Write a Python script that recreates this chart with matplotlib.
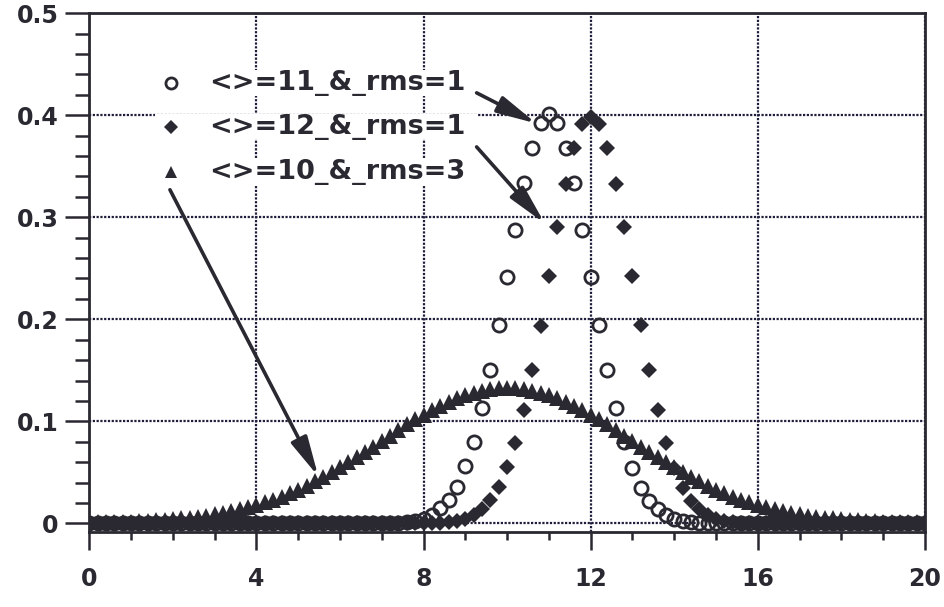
import numpy as np
import matplotlib
matplotlib.use('Agg')
import matplotlib.pyplot as plt
from matplotlib.patches import Rectangle
from matplotlib.ticker import MultipleLocator

# puntos de muestreo: 0 a 20 cada 0.2
x = np.linspace(0, 20, 101)

# <>=11, rms=1 (circulos)
media11 = [
  0, 0, 0, 0, 0, 0, 0, 0, 0, 0,
  0, 0, 0, 0, 0, 0, 0, 0, 0, 0,
  0, 0, 0, 0, 0, 0, 0, 0, 0, 0,
  0, 0, 0, 0, 0, 0, 0, 0, 0.001, 0.002,
  0.004, 0.008, 0.015, 0.023, 0.036, 0.056, 0.080, 0.113, 0.150, 0.194,
  0.241, 0.288, 0.334, 0.368, 0.392, 0.401, 0.392, 0.368, 0.334, 0.288,
  0.241, 0.194, 0.150, 0.113, 0.080, 0.054, 0.035, 0.022, 0.014, 0.008,
  0.004, 0.002, 0.001, 0, 0, 0, 0, 0, 0, 0,
  0, 0, 0, 0, 0, 0, 0, 0, 0, 0,
  0, 0, 0, 0, 0, 0, 0, 0, 0, 0,
  0,
]

# <>=12, rms=1 (rombos)
media12 = [
  0, 0, 0, 0, 0, 0, 0, 0, 0, 0,
  0, 0, 0, 0, 0, 0, 0, 0, 0, 0,
  0, 0, 0, 0, 0, 0, 0, 0, 0, 0,
  0, 0, 0, 0, 0, 0, 0, 0, 0, 0,
  0, 0, 0, 0.001, 0.002, 0.004, 0.008, 0.014, 0.023, 0.036,
  0.055, 0.079, 0.111, 0.150, 0.193, 0.242, 0.290, 0.333, 0.368, 0.391,
  0.398, 0.391, 0.368, 0.333, 0.290, 0.242, 0.194, 0.150, 0.111, 0.079,
  0.054, 0.035, 0.022, 0.014, 0.008, 0.004, 0.002, 0.001, 0, 0,
  0, 0, 0, 0, 0, 0, 0, 0, 0, 0,
  0, 0, 0, 0, 0, 0, 0, 0, 0, 0,
  0,
]

# <>=10, rms=3 (triangulos)
media10 = [
  0.001, 0.001, 0.001, 0.001, 0.001, 0.001, 0.002, 0.002, 0.003, 0.003,
  0.004, 0.005, 0.005, 0.006, 0.007, 0.009, 0.010, 0.012, 0.014, 0.016,
  0.018, 0.021, 0.023, 0.026, 0.030, 0.033, 0.037, 0.041, 0.045, 0.050,
  0.055, 0.060, 0.065, 0.070, 0.075, 0.081, 0.086, 0.091, 0.097, 0.102,
  0.106, 0.111, 0.115, 0.119, 0.123, 0.126, 0.128, 0.130, 0.132, 0.133,
  0.133, 0.133, 0.132, 0.130, 0.128, 0.126, 0.123, 0.119, 0.115, 0.111,
  0.106, 0.102, 0.097, 0.091, 0.086, 0.081, 0.075, 0.070, 0.065, 0.060,
  0.055, 0.050, 0.045, 0.041, 0.037, 0.033, 0.030, 0.026, 0.023, 0.021,
  0.018, 0.016, 0.014, 0.012, 0.010, 0.009, 0.007, 0.006, 0.005, 0.005,
  0.004, 0.003, 0.003, 0.002, 0.002, 0.001, 0.001, 0.001, 0.001, 0.001,
  0.001,
]

etiquetas = ['<>=11_&_rms=1', '<>=12_&_rms=1', '<>=10_&_rms=3']

TINTA = '#2a2830'
REJILLA = '#1e1e3c'


def graficar():
  fig = plt.figure(figsize=(9.45, 6.07), dpi=100)
  ax = fig.add_axes([0.0945, 0.1236, 0.8843, 0.8545])

  ax.set_xlim(0, 20)
  ax.set_ylim(-0.0085, 0.5)

  # series
  ax.plot(x, media10, linestyle='none', marker='^', markersize=11,
          color=TINTA, markeredgewidth=0, zorder=3)
  ax.plot(x, media12, linestyle='none', marker='D', markersize=8,
          color=TINTA, markeredgewidth=0, zorder=4)
  ax.plot(x, media11, linestyle='none', marker='o', markersize=9.5,
          markerfacecolor='none', markeredgecolor=TINTA,
          markeredgewidth=2.0, zorder=5)

  # ejes y rejilla
  ax.xaxis.set_major_locator(MultipleLocator(4))
  ax.xaxis.set_minor_locator(MultipleLocator(1))
  ax.yaxis.set_minor_locator(MultipleLocator(0.02))
  ax.set_yticks([0, 0.1, 0.2, 0.3, 0.4, 0.5])
  ax.set_yticklabels(['0', '0.1', '0.2', '0.3', '0.4', '0.5'])

  ax.set_axisbelow(True)
  ax.grid(True, which='major', color=REJILLA, linewidth=1.6,
          linestyle=(0, (1, 0.7)))

  for lado in ['left', 'right', 'top', 'bottom']:
    ax.spines[lado].set_linewidth(2.0)
    ax.spines[lado].set_color(TINTA)

  ax.tick_params(axis='y', which='major', direction='out', length=17,
                 width=1.8, color=TINTA, pad=5, labelsize=17,
                 labelcolor=TINTA)
  ax.tick_params(axis='y', which='minor', direction='out', length=10,
                 width=1.8, color=TINTA)
  ax.tick_params(axis='x', which='major', direction='out', length=13,
                 width=1.8, color=TINTA, pad=12, labelsize=17,
                 labelcolor=TINTA)
  ax.tick_params(axis='x', which='minor', direction='out', length=6,
                 width=1.8, color=TINTA)
  for lbl in ax.get_xticklabels() + ax.get_yticklabels():
    lbl.set_fontweight('bold')

  # leyenda hecha a mano, cada fila con fondo blanco
  filas_y = [0.432, 0.389, 0.344]
  marcadores = [
    dict(marker='o', markersize=8, markerfacecolor='white',
         markeredgecolor=TINTA, markeredgewidth=2.0),
    dict(marker='D', markersize=7, color=TINTA, markeredgewidth=0),
    dict(marker='^', markersize=9, color=TINTA, markeredgewidth=0),
  ]
  for fy, texto, estilo in zip(filas_y, etiquetas, marcadores):
    ax.add_patch(Rectangle((1.57, fy - 0.0127), 7.73, 0.0254,
                           facecolor='white', edgecolor='none', zorder=1))
    ax.plot([1.95], [fy], linestyle='none', zorder=6, **estilo)
    ax.text(2.87, fy, texto, fontsize=19.5, fontweight='bold', color=TINTA,
            ha='left', va='center', zorder=6)

  # flechas
  flecha = dict(arrowstyle='-|>,head_length=1.5,head_width=0.33',
                color=TINTA, lw=2.6, mutation_scale=16,
                shrinkA=0, shrinkB=0)
  ax.annotate('', xy=(10.70, 0.392), xytext=(9.27, 0.422),
              arrowprops=flecha, zorder=7)
  ax.annotate('', xy=(10.90, 0.294), xytext=(9.27, 0.369),
              arrowprops=flecha, zorder=7)
  ax.annotate('', xy=(5.48, 0.046), xytext=(1.93, 0.327),
              arrowprops=flecha, zorder=7)

  fig.savefig('out.png', dpi=100)


graficar()
